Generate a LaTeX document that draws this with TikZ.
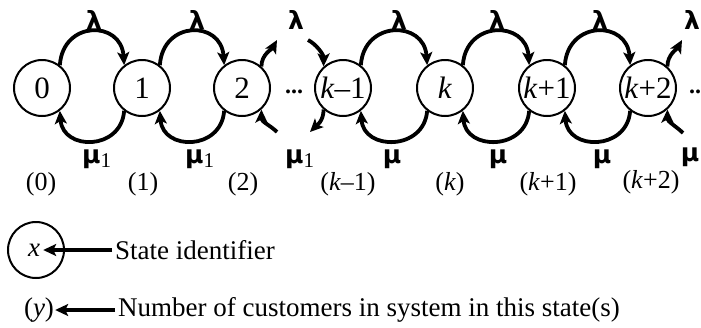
\documentclass[tikz,border=0pt]{standalone}
\usepackage{fontspec}
\setmainfont{Liberation Serif}
\newfontfamily\grk{DejaVu Sans}
\usetikzlibrary{arrows.meta}
\begin{document}
\begin{tikzpicture}[x=1pt,y=-1pt,
  st/.style={circle,draw,line width=2pt,minimum size=56pt,inner sep=0pt,font=\fontsize{31}{31}\selectfont},
  arc/.style={line width=3.8pt,-{Stealth[length=13pt,width=12pt,inset=3pt]}},
  lab/.style={inner sep=0pt,anchor=base,font=\fontsize{26}{26}\selectfont},
  gl/.style={inner sep=0pt,anchor=base,font=\grk\bfseries\fontsize{25}{25}\selectfont},
  glw/.style={inner sep=0pt,anchor=base west,font=\grk\bfseries\fontsize{25}{25}\selectfont},
  leg/.style={font=\fontsize{27}{27}\selectfont},
  legarrow/.style={line width=3.8pt,-{Stealth[length=13pt,width=12pt,inset=3pt]}},
  dots/.style={inner sep=0pt,anchor=base west,font=\bfseries\fontsize{24}{24}\selectfont},
]
\clip (0,0) rectangle (701,327);
% states
\node[st] (s0) at (42,88) {0};
\node[st] (s1) at (142,88) {1};
\node[st] (s2) at (242,88) {2};
\node[st] (s3) at (343,88) {\textit{k}–1};
\node[st] (s4) at (445,88) {\textit{k}};
\node[st] (s5) at (547,88) {\textit{k}+1};
\node[st] (s6) at (648,88) {\textit{k}+2};
% full arcs
\foreach \a/\b in {s0/s1,s1/s2,s3/s4,s4/s5,s5/s6}{
  \draw[arc] (\a.52) .. controls +(3,-45) and +(-3,-45) .. (\b.128);
  \draw[arc] (\b.232) .. controls +(-3,40) and +(3,40) .. (\a.308);
}
% partial arcs
\coordinate (p1) at (277,40);
\coordinate (p2) at (308,40);
\coordinate (p3) at (277,132);
\coordinate (p4) at (310,132);
\coordinate (p5) at (682,40);
\coordinate (p6) at (683,133);
\draw[arc] (s2.48) .. controls +(0,-12) and +(-5,9) .. (p1);
\draw[arc] (p2) .. controls +(8,4) and +(0,-12) .. (s3.132);
\draw[arc] (p3) .. controls +(-6,-6) and +(0,12) .. (s2.-48);
\draw[arc] (s3.-132) .. controls +(0,12) and +(6,-6) .. (p4);
\draw[arc] (s6.48) .. controls +(0,-12) and +(-5,9) .. (p5);
\draw[arc] (p6) .. controls +(-6,-6) and +(0,12) .. (s6.-48);
% lambda labels
\foreach \x [count=\i] in {94,197,296,399,497,600,692}{
  \node[gl] (l\i) at (\x,29) {λ};
}
% mu labels
\node[glw] (m1) at (82,163) {μ\raisebox{-4pt}{\rmfamily\mdseries\fontsize{21}{21}\selectfont 1}};
\node[glw] (m2) at (185,163) {μ\raisebox{-4pt}{\rmfamily\mdseries\fontsize{21}{21}\selectfont 1}};
\node[glw] (m3) at (285,163) {μ\raisebox{-4pt}{\rmfamily\mdseries\fontsize{21}{21}\selectfont 1}};
\node[gl] (m4) at (392,163) {μ};
\node[gl] (m5) at (498,163) {μ};
\node[gl] (m6) at (602,163) {μ};
\node[gl] (m7) at (690,161) {μ};
% dots
\node[dots] (d1) at (285,93) {...};
\node[dots] (d2) at (689,93) {...};
% customer counts
\node[lab] (n0) at (41,190) {(0)};
\node[lab] (n1) at (143,190) {(1)};
\node[lab] (n2) at (243,190) {(2)};
\node[lab] (n3) at (348,190) {(\textit{k}–1)};
\node[lab] (n4) at (450,190) {(\textit{k})};
\node[lab] (n5) at (548,190) {(\textit{k}+1)};
\node[lab] (n6) at (651,188) {(\textit{k}+2)};
% legend
\node[st] (lx) at (36,250) {};
\node[leg,inner sep=3pt] (xt) at (34,250) {\textit{x}};
\node[leg,anchor=west,inner sep=3pt] (si) at (112,250) {State identifier};
\draw[legarrow] (si.west) -- (xt.east);
\node[leg,inner sep=1pt] (yt) at (39,310) {(\textit{y})};
\node[leg,anchor=west,inner sep=3pt] (nc) at (115,310) {Number of customers in system in this state(s)};
\draw[legarrow] (nc.west) -- (yt.east);
\end{tikzpicture}
\end{document}
